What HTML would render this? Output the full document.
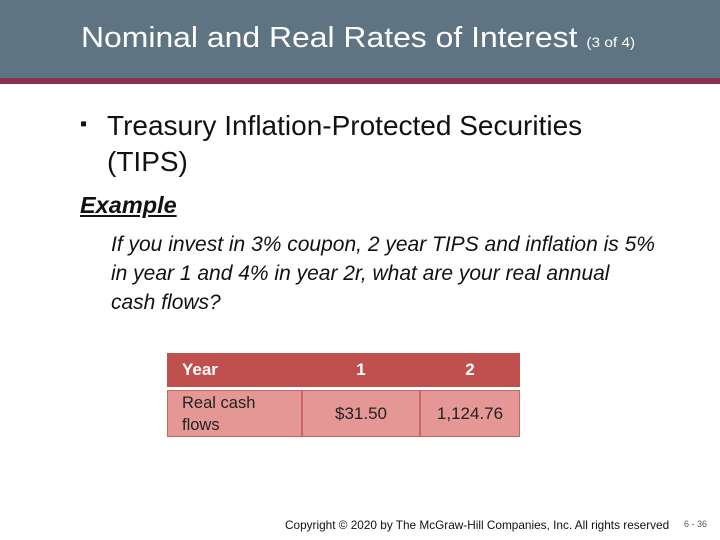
<!DOCTYPE html>
<html><head><meta charset="utf-8"><style>
body{margin:0;width:720px;height:540px;position:relative;background:#fff;font-family:"Liberation Sans",sans-serif;overflow:hidden}
.hdr{position:absolute;left:0;top:0;width:720px;height:78px;background:#5f7482}
.bar{position:absolute;left:0;top:78px;width:720px;height:6px;background:#8b3050}
.title{position:absolute;left:81px;top:22px;color:#fff;font-size:29px;white-space:nowrap;transform:scaleX(1.1);transform-origin:left top}
.title small{font-size:14px}
.t{position:absolute;white-space:nowrap;color:#111}
.c{position:absolute;box-sizing:border-box;color:#fff;font-size:17px;display:flex;align-items:center}
</style></head><body>
<div class="hdr"></div>
<div class="bar"></div>
<div class="title">Nominal and Real Rates of Interest <small>(3 of 4)</small></div>
<div class="t" style="left:80px;top:113px;font-size:20px">&#9642;</div>
<div class="t" style="left:107px;top:108px;font-size:28px;line-height:36px">Treasury Inflation-Protected Securities<br>(TIPS)</div>
<div class="t" style="left:80px;top:192px;font-size:23.5px;font-weight:bold;font-style:italic;text-decoration:underline">Example</div>
<div class="t" style="left:111px;top:230px;font-size:21px;font-style:italic;line-height:29px">If you invest in 3% coupon, 2 year TIPS and inflation is 5%<br>in year 1 and 4% in year 2r, what are your real annual<br>cash flows?</div>
<div>
<div class="c" style="left:167px;top:353px;width:135px;height:34px;background:#c0504d;padding-left:15px;font-weight:bold">Year</div>
<div class="c" style="left:302px;top:353px;width:118px;height:34px;background:#c0504d;justify-content:center;font-weight:bold">1</div>
<div class="c" style="left:420px;top:353px;width:100px;height:34px;background:#c0504d;justify-content:center;font-weight:bold">2</div>
<div class="c" style="left:167px;top:390px;width:135px;height:47px;background:#e59796;border:1px solid #c96563;padding-left:14px;color:#222;font-size:16.5px;line-height:22px">Real cash<br>flows</div>
<div class="c" style="left:302px;top:390px;width:118px;height:47px;background:#e59796;border:1px solid #c96563;justify-content:center;color:#222">$31.50</div>
<div class="c" style="left:420px;top:390px;width:100px;height:47px;background:#e59796;border:1px solid #c96563;justify-content:center;color:#222">1,124.76</div>
</div>
<div class="t" style="left:285px;top:518px;font-size:11.8px">Copyright © 2020 by The McGraw-Hill Companies, Inc. All rights reserved</div>
<div class="t" style="left:684px;top:519px;font-size:9px;color:#555">6 - 36</div>
</body></html>
